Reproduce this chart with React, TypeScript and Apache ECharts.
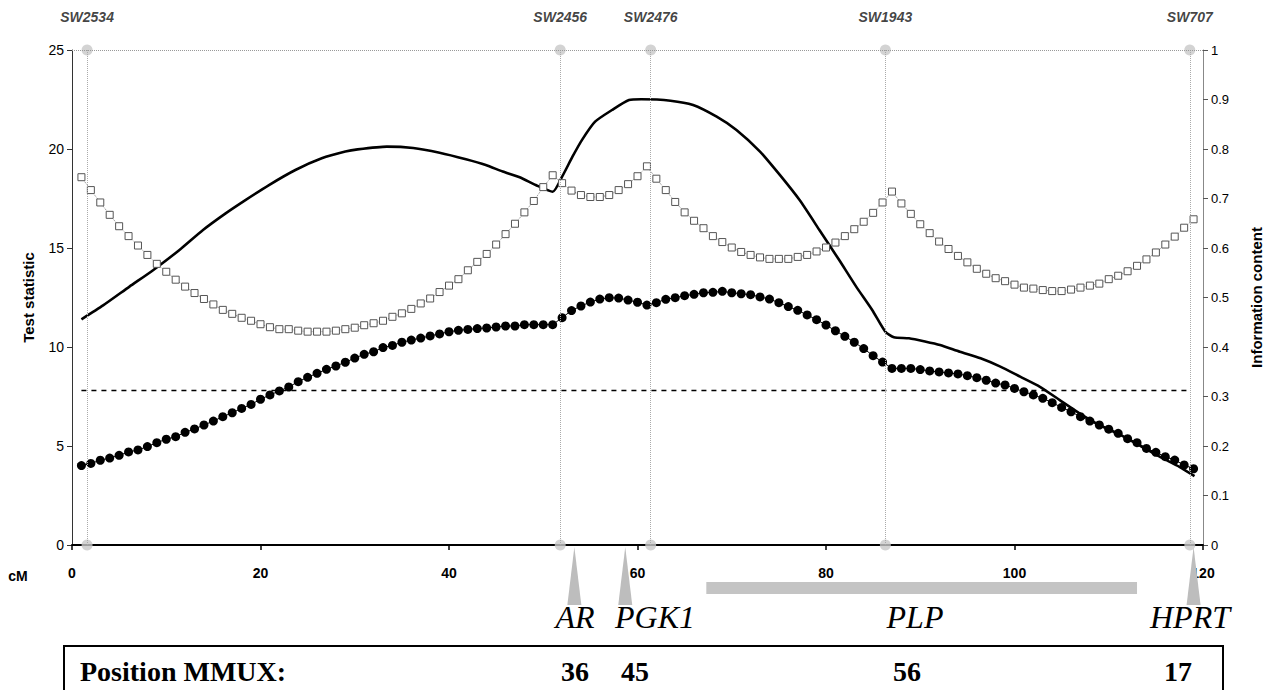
import React, { useEffect, useRef } from "react";
import * as echarts from "echarts";

// Marker names and positions (cM)
const markerNames = ["SW2534", "SW2456", "SW2476", "SW1943", "SW707"];
const markerPos = [1.6, 51.8, 61.4, 86.3, 118.6];

// Sampling positions (cM)
const positions = [
  1, 2, 3, 4, 5, 6, 7, 8, 9, 10, 11, 12, 13, 14, 15, 16, 17, 18, 19, 20,
  21, 22, 23, 24, 25, 26, 27, 28, 29, 30, 31, 32, 33, 34, 35, 36, 37, 38, 39, 40,
  41, 42, 43, 44, 45, 46, 47, 48, 49, 50, 51, 52, 53, 54, 55, 56, 57, 58, 59, 60,
  61, 62, 63, 64, 65, 66, 67, 68, 69, 70, 71, 72, 73, 74, 75, 76, 77, 78, 79, 80,
  81, 82, 83, 84, 85, 86, 87, 88, 89, 90, 91, 92, 93, 94, 95, 96, 97, 98, 99, 100,
  101, 102, 103, 104, 105, 106, 107, 108, 109, 110, 111, 112, 113, 114, 115, 116, 117, 118, 119,
];

// Filled circles: test statistic (left axis)
const dotValues = [
  4.01, 4.12, 4.28, 4.39, 4.53, 4.7, 4.8, 4.97, 5.17, 5.34, 5.47, 5.69, 5.86, 6.06, 6.26, 6.48, 6.68, 6.9, 7.1, 7.36,
  7.58, 7.78, 7.98, 8.25, 8.47, 8.67, 8.87, 9.04, 9.23, 9.44, 9.63, 9.76, 9.97, 10.08, 10.24, 10.35, 10.45, 10.56, 10.66, 10.77,
  10.84, 10.89, 10.93, 10.96, 11.01, 11.06, 11.06, 11.13, 11.13, 11.13, 11.13, 11.48, 11.84, 12.07, 12.27, 12.42, 12.49, 12.47, 12.37, 12.26,
  12.12, 12.24, 12.41, 12.49, 12.59, 12.66, 12.74, 12.76, 12.81, 12.74, 12.69, 12.64, 12.53, 12.42, 12.24, 12.04, 11.85, 11.62, 11.38, 11.11,
  10.82, 10.54, 10.24, 9.92, 9.56, 9.24, 8.92, 8.92, 8.92, 8.86, 8.79, 8.74, 8.69, 8.64, 8.55, 8.45, 8.32, 8.18, 8.08, 7.91,
  7.74, 7.58, 7.41, 7.19, 6.95, 6.73, 6.48, 6.26, 6.06, 5.85, 5.64, 5.37, 5.17, 4.88, 4.68, 4.46, 4.29, 4.04, 3.85,
];

// Open squares: information content (right axis)
const infoValues = [
  0.743, 0.717, 0.692, 0.667, 0.644, 0.624, 0.605, 0.586, 0.568, 0.552, 0.536, 0.522, 0.509, 0.497, 0.486, 0.475, 0.467, 0.459, 0.453, 0.446,
  0.44, 0.436, 0.436, 0.433, 0.431, 0.431, 0.431, 0.433, 0.436, 0.439, 0.444, 0.448, 0.453, 0.461, 0.468, 0.477, 0.488, 0.498, 0.511, 0.524,
  0.537, 0.555, 0.572, 0.588, 0.607, 0.628, 0.649, 0.672, 0.695, 0.723, 0.747, 0.731, 0.716, 0.707, 0.703, 0.703, 0.707, 0.717, 0.729, 0.745,
  0.765, 0.74, 0.717, 0.693, 0.672, 0.655, 0.64, 0.624, 0.612, 0.601, 0.592, 0.586, 0.581, 0.578, 0.578, 0.578, 0.582, 0.586, 0.593, 0.601,
  0.611, 0.624, 0.638, 0.653, 0.671, 0.692, 0.714, 0.69, 0.669, 0.648, 0.63, 0.613, 0.598, 0.584, 0.571, 0.558, 0.548, 0.539, 0.533, 0.526,
  0.52, 0.518, 0.515, 0.513, 0.513, 0.516, 0.52, 0.524, 0.528, 0.537, 0.544, 0.553, 0.564, 0.577, 0.591, 0.607, 0.623, 0.641, 0.658,
];

// Solid curve: test statistic (left axis), [cM, value]
const curvePoints = [
  [1.0, 11.4], [3.3, 12.1], [6.1, 13.05], [8.6, 13.88], [11.4, 14.9], [13.9, 15.91], [16.3, 16.75], [18.4, 17.42],
  [20.9, 18.18], [23.7, 18.94], [26.5, 19.53], [29.0, 19.87], [30.3, 19.98], [33.4, 20.12], [36.2, 20.05], [39.0, 19.81],
  [41.8, 19.48], [43.9, 19.19], [45.7, 18.86], [47.5, 18.57], [49.2, 18.18], [51.0, 17.84], [52.0, 18.6], [53.1, 19.61],
  [54.1, 20.45], [55.5, 21.38], [57.3, 21.97], [59.1, 22.47], [60.4, 22.51], [63.5, 22.44], [65.9, 22.22], [68.4, 21.63],
  [70.5, 20.96], [73.0, 19.87], [75.1, 18.69], [77.2, 17.42], [79.3, 15.91], [81.4, 14.39], [83.2, 13.05], [84.9, 11.87],
  [86.3, 10.77], [87.2, 10.49], [88.8, 10.44], [90.5, 10.28], [92.1, 10.1], [94.2, 9.76], [96.4, 9.43], [98.5, 9.01],
  [100.6, 8.5], [102.7, 7.99], [104.8, 7.32], [106.9, 6.65], [109.0, 6.06], [111.1, 5.6], [113.2, 5.05], [115.4, 4.46],
  [117.5, 3.95], [119.1, 3.48],
];

// Significance threshold
const threshold = 7.8;
const thresholdRange = [1, 118.6];

// Genes
const geneTriangles = [53.3, 58.7, 119.0]; // AR, PGK1, HPRT
const plpRange = [67.3, 113.0];
const geneNames = ["AR", "PGK1", "PLP", "HPRT"];
const mmuxLabel = "Position MMUX:";
const mmuxPositions = ["36", "45", "56", "17"];

// Axis ticks
const xTicks = { min: 0, max: 120, interval: 20 };
const yLeftTicks = { min: 0, max: 25, interval: 5 };
const yRightTicks = { min: 0, max: 1, interval: 0.1 };

const geneLabelX = [575, 655, 915, 1190];
const mmuxX = [575, 635, 907, 1178];

export default function App() {
  const ref = useRef<HTMLDivElement>(null);

  useEffect(() => {
    if (!ref.current) return;
    const chart = echarts.init(ref.current, null, { renderer: "svg" });
    const sans = "'Liberation Sans', Arial, Helvetica, sans-serif";
    const serif = "'Liberation Serif', 'Times New Roman', serif";

    const graphic: any[] = [
      {
        type: "text",
        x: 18,
        y: 576,
        style: { text: "cM", font: `bold 14px ${sans}`, fill: "#000", align: "center", verticalAlign: "middle" },
      },
      ...geneNames.map((g, i) => ({
        type: "text",
        x: geneLabelX[i],
        y: 617,
        style: { text: g, font: `italic 32px ${serif}`, fill: "#000", align: "center", verticalAlign: "middle" },
      })),
      {
        type: "rect",
        shape: { x: 64, y: 646, width: 1159, height: 60 },
        style: { fill: "none", stroke: "#000", lineWidth: 2 },
      },
      {
        type: "text",
        x: 80,
        y: 671,
        style: { text: mmuxLabel, font: `bold 28px ${serif}`, fill: "#000", align: "left", verticalAlign: "middle" },
      },
      ...mmuxPositions.map((t, i) => ({
        type: "text",
        x: mmuxX[i],
        y: 671,
        style: { text: t, font: `bold 28px ${serif}`, fill: "#000", align: "center", verticalAlign: "middle" },
      })),
    ];

    chart.setOption({
      animation: false,
      backgroundColor: "#fff",
      grid: { left: 72, right: 63, top: 50, bottom: 145, containLabel: false },
      xAxis: {
        type: "value",
        min: xTicks.min,
        max: xTicks.max,
        interval: xTicks.interval,
        axisLine: { show: true, onZero: false, lineStyle: { color: "#000", width: 2 } },
        axisTick: { show: true, length: 5, lineStyle: { color: "#000", width: 1.5 } },
        axisLabel: { color: "#000", fontFamily: sans, fontSize: 14, fontWeight: "bold", margin: 21 },
        splitLine: { show: false },
      },
      yAxis: [
        {
          type: "value",
          min: yLeftTicks.min,
          max: yLeftTicks.max,
          interval: yLeftTicks.interval,
          name: "Test statistic",
          nameLocation: "middle",
          nameGap: 36,
          nameTextStyle: { fontFamily: sans, fontSize: 15, fontWeight: "bold", color: "#000" },
          axisLine: { show: true, lineStyle: { color: "#333", width: 1 } },
          axisTick: { show: true, length: 5, lineStyle: { color: "#333" } },
          axisLabel: { color: "#000", fontFamily: sans, fontSize: 14, margin: 8 },
          splitLine: { show: false },
        },
        {
          type: "value",
          position: "right",
          min: yRightTicks.min,
          max: yRightTicks.max,
          interval: yRightTicks.interval,
          name: "Information content",
          nameLocation: "middle",
          nameGap: 46,
          nameRotate: 90,
          nameTextStyle: { fontFamily: sans, fontSize: 15, fontWeight: "bold", color: "#000" },
          axisLine: { show: true, lineStyle: { color: "#888", width: 1 } },
          axisTick: { show: true, length: 5, lineStyle: { color: "#555" } },
          axisLabel: {
            color: "#000",
            fontFamily: sans,
            fontSize: 13,
            margin: 8,
            formatter: (v: number) => String(Number(v.toFixed(1))),
          },
          splitLine: { show: false },
        },
      ],
      graphic,
      series: [
        {
          type: "scatter",
          name: "markersTop",
          yAxisIndex: 0,
          z: 1,
          symbolSize: 11,
          itemStyle: { color: "#c8c8c8" },
          data: markerPos.map((p, i) => ({ value: [p, yLeftTicks.max], name: markerNames[i] })),
          label: {
            show: true,
            position: "top",
            distance: 21,
            formatter: (p: any) => p.name,
            fontFamily: sans,
            fontSize: 14,
            fontStyle: "italic",
            fontWeight: "bold",
            color: "#111",
          },
          markLine: {
            silent: true,
            symbol: "none",
            label: { show: false },
            lineStyle: { type: "dotted", color: "#aaa", width: 1 },
            data: [
              ...markerPos.map((p) => ({ xAxis: p })),
              { yAxis: yLeftTicks.max, lineStyle: { type: "dotted", color: "#999", width: 1 } },
            ],
          },
        },
        {
          type: "scatter",
          name: "markersBottom",
          yAxisIndex: 0,
          z: 3,
          symbolSize: 11,
          itemStyle: { color: "#c8c8c8" },
          data: markerPos.map((p) => [p, 0]),
        },
        {
          type: "line",
          name: "threshold",
          yAxisIndex: 0,
          symbol: "none",
          lineStyle: { color: "#000", width: 1.5, type: [5, 5] },
          data: thresholdRange.map((x) => [x, threshold]),
        },
        {
          type: "line",
          name: "Information content",
          yAxisIndex: 1,
          symbol: "rect",
          symbolSize: 7,
          itemStyle: { color: "#fff", borderColor: "#555", borderWidth: 1 },
          lineStyle: { color: "#888", width: 1, type: "dotted" },
          data: positions.map((x, i) => [x, infoValues[i]]),
        },
        {
          type: "line",
          name: "Test statistic (points)",
          yAxisIndex: 0,
          symbol: "circle",
          symbolSize: 9,
          itemStyle: { color: "#000" },
          lineStyle: { color: "#000", width: 1 },
          data: positions.map((x, i) => [x, dotValues[i]]),
        },
        {
          type: "line",
          name: "Test statistic",
          yAxisIndex: 0,
          symbol: "none",
          smooth: 0.2,
          lineStyle: { color: "#000", width: 2.6 },
          data: curvePoints,
        },
        {
          type: "custom",
          name: "genes",
          coordinateSystem: "cartesian2d",
          yAxisIndex: 0,
          clip: false,
          silent: true,
          encode: { x: 0, y: 1 },
          data: geneTriangles.map((p) => [p, 0]),
          renderItem: (params: any, api: any) => {
            const pt = api.coord([api.value(0), api.value(1)]);
            return {
              type: "polygon",
              shape: {
                points: [
                  [pt[0], pt[1] + 2],
                  [pt[0] - 7, pt[1] + 60],
                  [pt[0] + 7, pt[1] + 60],
                ],
              },
              style: { fill: "#bdbdbd" },
            };
          },
        },
        {
          type: "custom",
          name: "PLP",
          coordinateSystem: "cartesian2d",
          yAxisIndex: 0,
          clip: false,
          silent: true,
          encode: { x: [0, 1], y: 2 },
          data: [[plpRange[0], plpRange[1], 0]],
          renderItem: (params: any, api: any) => {
            const a = api.coord([api.value(0), api.value(2)]);
            const b = api.coord([api.value(1), api.value(2)]);
            return {
              type: "rect",
              shape: { x: a[0], y: a[1] + 37, width: b[0] - a[0], height: 12 },
              style: { fill: "#c4c4c4" },
            };
          },
        },
      ],
    });

    return () => chart.dispose();
  }, []);

  return (
    <div
      ref={ref}
      style={{ position: "fixed", left: 0, top: 0, width: 1272, height: 690, background: "#fff" }}
    />
  );
}
